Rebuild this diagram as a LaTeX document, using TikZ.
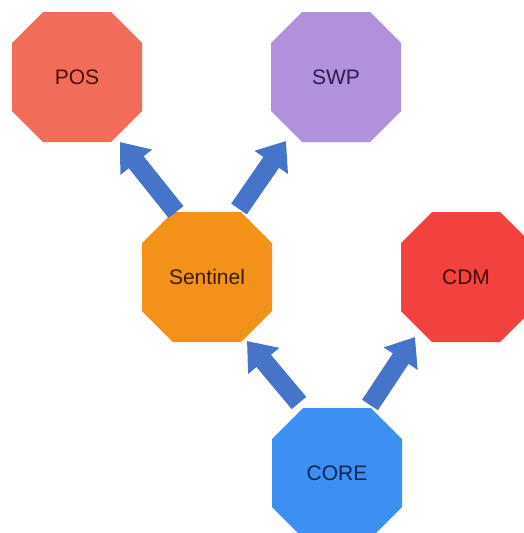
\documentclass[tikz,border=0pt]{standalone}
\usepackage{fontspec}
\setmainfont{Liberation Sans}
\usetikzlibrary{arrows.meta,calc}

\definecolor{posfill}{HTML}{F26C5A}
\definecolor{swpfill}{HTML}{B191DB}
\definecolor{senfill}{HTML}{F39218}
\definecolor{cdmfill}{HTML}{F2413F}
\definecolor{corefill}{HTML}{3D8FF1}
\definecolor{arrowblue}{HTML}{4674C8}
\definecolor{postext}{HTML}{45110A}
\definecolor{swptext}{HTML}{2C1A52}
\definecolor{sentext}{HTML}{3E1E02}
\definecolor{cdmtext}{HTML}{420A0A}
\definecolor{coretext}{HTML}{0C2656}

\tikzset{
  % square node painted as an octagon with 31pt corner cuts
  octa/.style={rectangle, minimum width=130pt, minimum height=130pt,
    inner sep=0pt, outer sep=0pt, font=\fontsize{21}{25}\selectfont,
    path picture={
      \fill[#1]
        ($(path picture bounding box.north west)+(31,0)$) --
        ($(path picture bounding box.north east)+(-31,0)$) --
        ($(path picture bounding box.north east)+(0,31)$) --
        ($(path picture bounding box.south east)+(0,-31)$) --
        ($(path picture bounding box.south east)+(-31,0)$) --
        ($(path picture bounding box.south west)+(31,0)$) --
        ($(path picture bounding box.south west)+(0,-31)$) --
        ($(path picture bounding box.north west)+(0,31)$) -- cycle;
    }},
  flow/.style={draw=arrowblue, line width=19pt, line cap=butt,
    -{Triangle[width=39pt,length=26pt]}}
}

\begin{document}
\begin{tikzpicture}[x=1pt,y=-1pt]
  \useasboundingbox (0,0) rectangle (524,533);
  \clip (0,0) rectangle (524,533);

  % services
  \node[octa=posfill,  text=postext]  (pos)  at (77,77)   {POS};
  \node[octa=swpfill,  text=swptext]  (swp)  at (336,77)  {SWP};
  \node[octa=senfill,  text=sentext]  (sen)  at (207,277) {Sentinel};
  \node[octa=cdmfill,  text=cdmtext]  (cdm)  at (466,277) {CDM};
  \node[octa=corefill, text=coretext] (core) at (337,473) {CORE};

  % dependencies
  \draw[flow] ($(sen)+(-31,-65)$)  -- ($(pos)+(43,65)$);
  \draw[flow] ($(sen)+(32,-68)$)   -- ($(swp)+(-50,64)$);
  \draw[flow] ($(core)+(-38,-70)$) -- ($(sen)+(40,64)$);
  \draw[flow] ($(core)+(33,-68)$)  -- ($(cdm)+(-51,60)$);
\end{tikzpicture}
\end{document}
